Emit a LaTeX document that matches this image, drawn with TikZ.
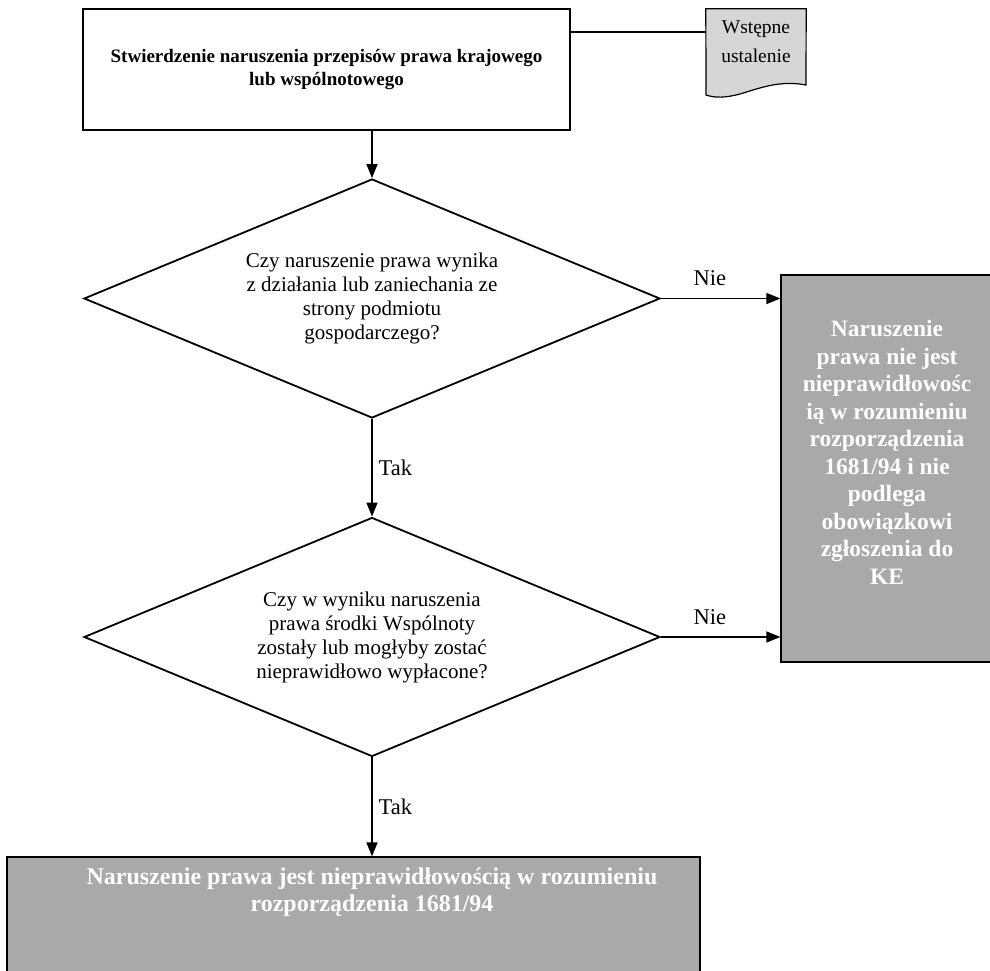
\documentclass[tikz,border=0pt]{standalone}
\usepackage{fontspec}
\setmainfont{Liberation Serif}
\usetikzlibrary{shapes.geometric,arrows.meta}
\definecolor{grayfill}{HTML}{A9A9A9}
\definecolor{lightfill}{HTML}{D6D6D6}
\tikzset{
  box/.style={draw, line width=1.8pt, inner sep=0pt},
  decision/.style={diamond, draw, line width=1.8pt, inner sep=0pt, aspect=2.41,
    minimum width=576pt, minimum height=239pt, align=center,
    font=\fontsize{21}{24}\selectfont},
  graybox/.style={draw, line width=1.2pt, fill=grayfill, inner sep=0pt},
  whitetext/.style={text=white, align=center, font=\bfseries\fontsize{23.5}{27.5}\selectfont},
  arr/.style={line width=1.4pt, -{Triangle[length=14pt,width=11pt]}},
  lbl/.style={font=\fontsize{22.5}{26}\selectfont, inner sep=0pt}
}
\begin{document}
\begin{tikzpicture}[x=1pt,y=-1pt]
\useasboundingbox (0,0) rectangle (990,971);
% top box
\node[box, minimum width=487pt, minimum height=121pt, align=center,
  font=\bfseries\fontsize{19}{23}\selectfont] (top) at (326.5,69.5)
  {Stwierdzenie naruszenia przepisów prawa krajowego\\lub wspólnotowego};
% document shape
\node[inner sep=0pt, minimum width=100pt, minimum height=76pt] (doc) at (756,47) {};
\fill[lightfill] (doc.north west) -- (doc.north east) -- (806,85)
  .. controls (780,80) and (760,88) .. (740,94)
  .. controls (725,98) and (715,98) .. (706,95) -- cycle;
\draw[line width=1.2pt] (doc.north west) -- (doc.north east) -- (806,85)
  .. controls (780,80) and (760,88) .. (740,94)
  .. controls (725,98) and (715,98) .. (706,95) -- cycle;
\node[align=center, inner sep=0pt, font=\fontsize{19.5}{29}\selectfont] (doct) at (756,42) {Wstępne\\ustalenie};
\coordinate (docin) at (706,32);
\draw[line width=1.4pt] (docin) -- (docin -| top.east);
% decisions
\node[decision] (d1) at (372,298.5)
  {Czy naruszenie prawa wynika\\z działania lub zaniechania ze\\strony podmiotu\\gospodarczego?};
\node[decision] (d2) at (372,637)
  {Czy w wyniku naruszenia\\prawa środki Wspólnoty\\zostały lub mogłyby zostać\\nieprawidłowo wypłacone?};
% right result box
\node[graybox, minimum width=212pt, minimum height=387pt] (rb) at (887,468.5) {};
\node[whitetext] (rbt) at ([yshift=16pt]rb.center)
  {Naruszenie\\prawa nie jest\\nieprawidłowośc\\ią w rozumieniu\\rozporządzenia\\1681/94 i nie\\podlega\\obowiązkowi\\zgłoszenia do\\KE};
% bottom result box
\node[graybox, minimum width=693pt, minimum height=120pt] (bb) at (353.5,917) {};
\node[whitetext, font=\bfseries\fontsize{24}{27}\selectfont] (bbt) at (372,892)
  {Naruszenie prawa jest nieprawidłowością w rozumieniu\\rozporządzenia 1681/94};
% connectors
\draw[arr] (top.south -| d1.north) -- (d1.north);
\draw[arr] (d1.south) -- node[lbl, right=6pt] (tak1) {Tak} (d2.north);
\draw[arr] (d2.south) -- node[lbl, right=6pt] (tak2) {Tak} (d2.south |- bb.north);
\draw[arr] (d1.east) -- node[lbl, pos=0.41, above=12pt] (nie1) {Nie} (d1.east -| rb.west);
\draw[arr] (d2.east) -- node[lbl, pos=0.41, above=12pt] (nie2) {Nie} (d2.east -| rb.west);
\end{tikzpicture}
\end{document}
